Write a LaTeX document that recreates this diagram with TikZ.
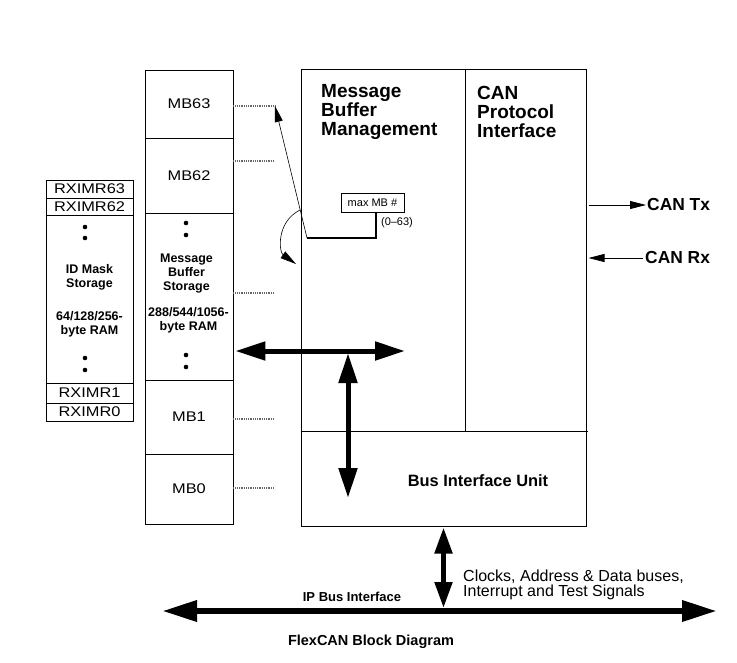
\documentclass[tikz,border=0pt]{standalone}
\usepackage{fontspec}
\setmainfont{Liberation Sans}
\newfontfamily\cellfont[FakeStretch=1.17]{Liberation Sans}
\usetikzlibrary{arrows.meta}

\begin{document}
\begin{tikzpicture}[x=1pt, y=-1pt,
    cell/.style={draw, line width=0.8pt, inner sep=0pt, font=\cellfont\fontsize{14}{14}\selectfont},
    blk/.style={draw, line width=1pt, inner sep=0pt},
    lbl/.style={font=\bfseries\fontsize{12.5}{14}\selectfont, align=center, inner sep=0pt},
    head/.style={font=\bfseries\fontsize{19}{19}\selectfont, align=left, inner sep=0pt, anchor=north west},
    tap/.style={dash pattern=on 1pt off 0.8pt, line width=1.3pt, gray!80!black},
    ptr/.style={line width=0.6pt, -{Triangle[length=16pt,width=8pt]}},
    fat/.style={line width=5pt, {Triangle[length=30pt,width=18pt]}-{Triangle[length=30pt,width=18pt]}},
    fatb/.style={line width=5pt, {Triangle[length=26pt,width=17pt]}-{Triangle[length=26pt,width=17pt]}},
    bus/.style={line width=6.5pt, {Triangle[length=35pt,width=20pt]}-{Triangle[length=35pt,width=20pt]}}]
  \useasboundingbox (0,0) rectangle (737,662);

  % ID mask column
  \node[cell, minimum width=87pt, minimum height=18pt] (r63) at (89.5,189) {RXIMR63};
  \node[cell, minimum width=87pt, minimum height=17pt] (r62) at (89.5,206.5) {RXIMR62};
  \node[cell, minimum width=87pt, minimum height=168pt] (mask) at (89.5,299) {};
  \node[cell, minimum width=87pt, minimum height=20pt] (r1) at (89.5,393) {RXIMR1};
  \node[cell, minimum width=87pt, minimum height=18pt] (r0) at (89.5,412) {RXIMR0};
  \node[lbl] (idmask) at (89.5,277) {ID Mask\\Storage};
  \node[lbl] (maskram) at (89.5,324) {64/128/256-\\byte RAM};
  \foreach \y in {227,238,358,370}
    \fill (85,\y) circle (2.3pt);

  % message buffer column
  \node[cell, minimum width=88pt, minimum height=68pt] (mb63) at (189,104) {MB63};
  \node[cell, minimum width=88pt, minimum height=75pt] (mb62) at (189,175.5) {MB62};
  \node[cell, minimum width=88pt, minimum height=167pt] (mbs) at (189,296.5) {};
  \node[cell, minimum width=88pt, minimum height=74pt] (mb1) at (189,417) {MB1};
  \node[cell, minimum width=88pt, minimum height=70pt] (mb0) at (189,489) {MB0};
  \node[lbl] (mbstor) at (186.5,274) {Message\\Buffer\\Storage};
  \node[lbl] (mbram) at (188.5,320) {288/544/1056-\\byte RAM};
  \foreach \y in {223,235,355,367}
    \fill (186,\y) circle (2.3pt);

  \coordinate (mbtip) at (275,106);
  \draw[tap] (mb63.east |- mbtip) -- (mbtip);
  \draw[tap] ([yshift=14.5pt]mb62.east) -- ++(40,0);
  \draw[tap] ([yshift=3.5pt]mbs.east) -- ++(40,0);
  \draw[tap] ([yshift=-2pt]mb1.east) -- ++(40,0);
  \draw[tap] ([yshift=1pt]mb0.east) -- ++(40,0);

  % FlexCAN blocks
  \node[blk, minimum width=164pt, minimum height=362pt] (mbm) at (383,250) {};
  \node[blk, minimum width=121pt, minimum height=362pt] (cpi) at (525.5,250) {};
  \node[blk, minimum width=285pt, minimum height=95pt] (biu) at (443.5,478.5) {};
  \draw[line width=1.6pt] (mbm.south west) -- ([xshift=1.5pt]cpi.south east);
  \node[head] (mbmtext) at (321,84) {Message\\Buffer\\Management};
  \node[head] (cpitext) at (477,86) {CAN\\Protocol\\Interface};
  \node[font=\bfseries\fontsize{16.4}{16}\selectfont] (biutext) at (478,481) {Bus Interface Unit};

  % max MB selection
  \node[draw, line width=0.8pt, minimum width=63pt, minimum height=19pt, inner sep=0pt,
        font=\fontsize{11}{11}\selectfont] (maxmb) at (372.5,202.5) {max MB \#};
  \node[font=\fontsize{11}{11}\selectfont, inner sep=0pt] (range) at (397,223) {(0--63)};
  \coordinate (sel) at (307,238);
  \draw[line width=1.6pt] (sel) -| ([xshift=3.5pt]maxmb.south);
  \draw[ptr] (sel) -- (mbtip);
  \draw[ptr] (300,210) .. controls (276,222) and (279,252) .. (296,264);

  % internal data paths
  \coordinate (hr) at (405,351);
  \coordinate (jn) at (348,351);
  \draw[fat] ([xshift=2pt]mbs.east |- hr) -- (hr);
  \draw[fat] ([yshift=-2pt]jn) -- (348,498);

  % CAN pins
  \node[font=\bfseries\fontsize{17.4}{17}\selectfont, anchor=west, inner sep=1pt] (tx) at (646,205) {CAN Tx};
  \node[font=\bfseries\fontsize{17.4}{17}\selectfont, anchor=west, inner sep=1pt] (rx) at (644,258) {CAN Rx};
  \draw[ptr, line width=0.8pt] ([xshift=2pt]cpi.east |- tx.west) -- (tx.west);
  \draw[ptr, line width=0.8pt] ([xshift=-1pt]rx.west) -- ([xshift=2pt]cpi.east |- rx.west);

  % IP bus
  \coordinate (busl) at (162,611);
  \coordinate (busr) at (717,611);
  \draw[bus] (busl) -- (busr);
  \draw[fatb] ([yshift=-1pt]biu.south) -- ([yshift=3pt]biu.south |- busl);
  \node[font=\bfseries\fontsize{13}{13}\selectfont] (ipbus) at (352,597) {IP Bus Interface};
  \node[font=\fontsize{16}{15}\selectfont, align=left, anchor=west, inner sep=0pt] (sig) at (463,585)
    {Clocks, Address \& Data buses,\\Interrupt and Test Signals};
  \node[font=\bfseries\fontsize{14.5}{14}\selectfont] (title) at (371,642) {FlexCAN Block Diagram};
\end{tikzpicture}
\end{document}
